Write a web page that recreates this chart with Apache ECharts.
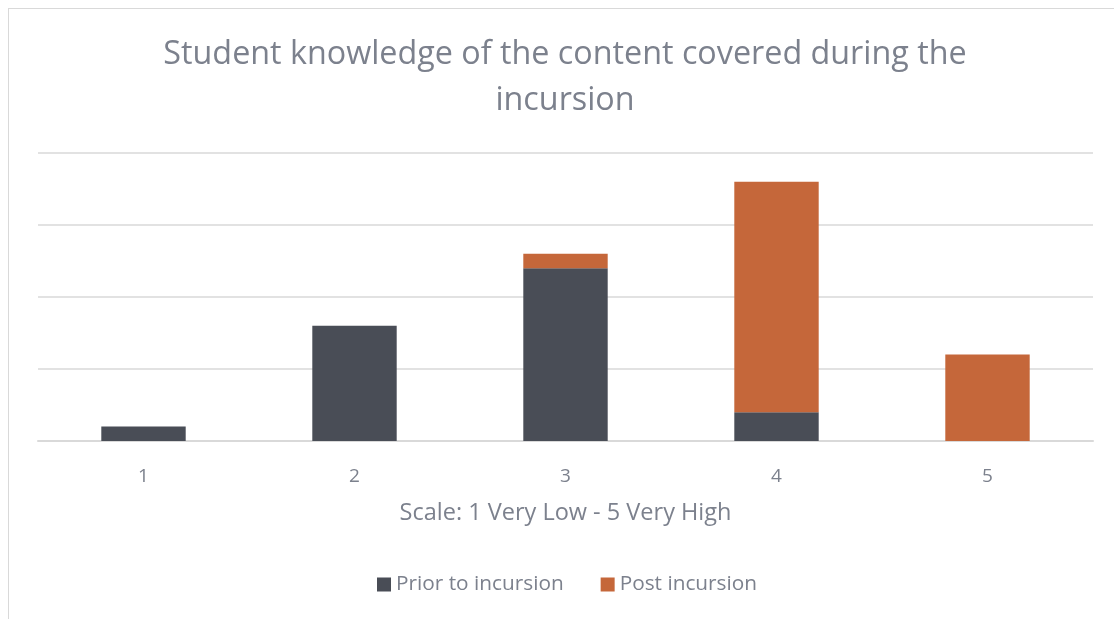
<!DOCTYPE html>
<html><head><meta charset="utf-8">
<script src="https://cdn.jsdelivr.net/npm/echarts@6/dist/echarts.min.js"></script>
<style>
html,body{margin:0;padding:0;background:#fff;overflow:hidden}
#frame{position:absolute;left:8px;top:8px;width:1200px;height:700px;border:1px solid #d9d9d9;box-sizing:border-box}
#c{position:absolute;left:0;top:0;width:1114px;height:619px}
</style></head>
<body>
<div id="frame"></div>
<div id="c"></div>
<script>
const categories = ['1','2','3','4','5'];
const priorValues = [1, 8, 12, 2, 0];
const postValues = [0, 0, 1, 16, 6];
const seriesNames = ['Prior to incursion','Post incursion'];
const titleText = 'Student knowledge of the content covered during the\nincursion';
const xAxisName = 'Scale: 1 Very Low - 5 Very High';

const font = 'Open Sans';
const chart = echarts.init(document.getElementById('c'));
chart.setOption({
  animation:false,
  backgroundColor:'transparent',
  title:{text:titleText,left:560,textAlign:'center',top:27,textStyle:{fontFamily:font,fontSize:32.3,fontWeight:'normal',color:'#7c818d',lineHeight:46}},
  grid:{left:38,right:21,top:153,bottom:178,containLabel:false},
  legend:{bottom:19,left:372,itemWidth:14,itemHeight:14,itemGap:37,icon:'rect',
    textStyle:{fontFamily:font,fontSize:20.8,color:'#7c818d'},data:seriesNames},
  xAxis:{type:'category',data:categories,
    axisLine:{lineStyle:{color:'#d9d9d9',width:2}},axisTick:{show:false},
    axisLabel:{fontFamily:font,fontSize:19,color:'#7c818d',margin:26},
    name:xAxisName,nameLocation:'middle',nameGap:60,
    nameTextStyle:{fontFamily:font,fontSize:23.5,color:'#7c818d'}},
  yAxis:{type:'value',min:0,max:20,interval:5,
    axisLabel:{show:false},axisLine:{show:false},axisTick:{show:false},
    splitLine:{lineStyle:{color:'#d9d9d9',width:1.5}}},
  series:[
    {name:seriesNames[0],type:'bar',stack:'a',data:priorValues,barWidth:'40%',itemStyle:{color:'#494d56'}},
    {name:seriesNames[1],type:'bar',stack:'a',data:postValues,barWidth:'40%',itemStyle:{color:'#c5673a'}}
  ]
});
</script>
</body></html>
